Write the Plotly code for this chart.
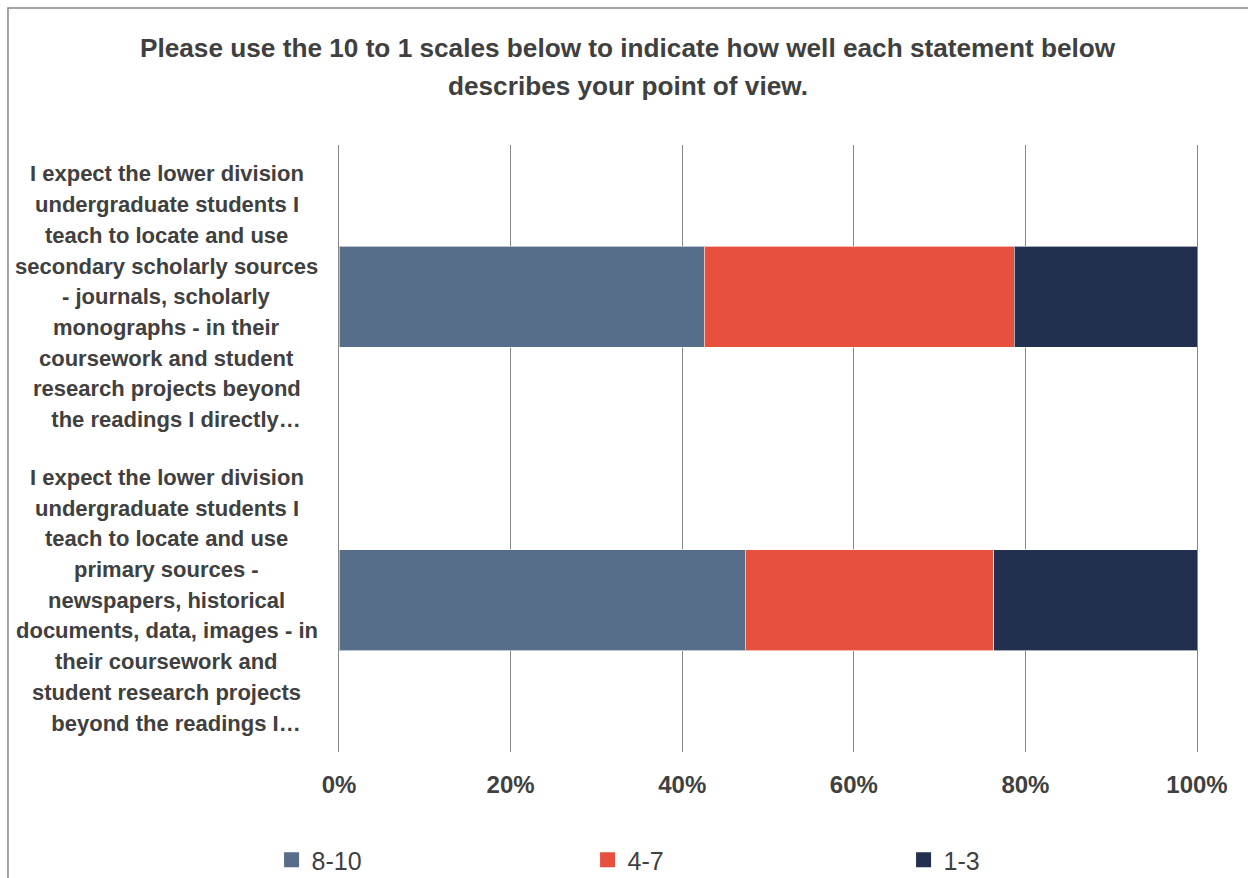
import plotly.graph_objects as go

# Survey statements (long labels, wrapped as they appear on the chart)
statements = [
    "Secondary scholarly sources",
    "Primary sources",
]
statement_lines = [
    ["I expect the lower division", "undergraduate students I", "teach to locate and use",
     "secondary scholarly sources", "- journals, scholarly", "monographs - in their",
     "coursework and student", "research projects beyond", "   the readings I directly…"],
    ["I expect the lower division", "undergraduate students I", "teach to locate and use",
     "primary sources -", "newspapers, historical", "documents, data, images - in",
     "their coursework and", "student research projects", "   beyond the readings I…"],
]

# Share of responses per rating band (fractions of 1)
series_names = ["8-10", "4-7", "1-3"]
share_8_10 = [20 / 47, 18 / 38]
share_4_7 = [17 / 47, 11 / 38]
share_1_3 = [10 / 47, 9 / 38]
series_values = [share_8_10, share_4_7, share_1_3]
series_colors = ["#566E89", "#E8503E", "#222F4F"]

tick_vals = [0, 0.2, 0.4, 0.6, 0.8, 1.0]
tick_text = ["0%", "20%", "40%", "60%", "80%", "100%"]

title_lines = [
    "Please use the 10 to 1 scales below to indicate how well each statement below",
    "describes your point of view.",
]

FONT = "Liberation Sans, Arial, sans-serif"
TEXT = "#404040"
GRID = "#878787"

fig = go.Figure()
for name, vals, col in zip(series_names, series_values, series_colors):
    fig.add_trace(go.Bar(
        y=statements, x=vals, name=name, orientation="h", legendgroup=name,
        showlegend=False,
        marker=dict(color=col, line=dict(color="rgba(255,255,255,0.6)", width=1)),
        width=0.333,
    ))
    # square legend key for the series
    fig.add_trace(go.Scatter(
        x=[None], y=[None], mode="markers", name=name, legendgroup=name,
        marker=dict(symbol="square", size=15, color=col),
    ))

# Centered, multi-line category labels on the left
line_gap = 30.7
for cat, lines in zip(statements, statement_lines):
    mid = (len(lines) - 1) / 2
    for i, ln in enumerate(lines):
        fig.add_annotation(
            x=-0.2005, xref="paper", y=cat, yref="y",
            yshift=(mid - i) * line_gap,
            text="<b>" + ln + "</b>", showarrow=False, xanchor="center", yanchor="middle",
            font=dict(family=FONT, size=22, color=TEXT),
        )

# Two-line chart title
for ty, tl in zip([1.1598, 1.0972], title_lines):
    fig.add_annotation(
        x=0.3368, xref="paper", y=ty, yref="paper", text="<b>" + tl + "</b>",
        showarrow=False, xanchor="center", yanchor="middle",
        font=dict(family=FONT, size=26.2, color=TEXT),
    )

# Outer chart border
fig.add_shape(type="rect", xref="paper", yref="paper",
              x0=-0.3858, x1=1.09, y0=-0.26, y1=1.2257,
              line=dict(color=GRID, width=1.5), fillcolor="rgba(0,0,0,0)", layer="below")

fig.update_layout(
    width=1248, height=878,
    margin=dict(l=339, r=51, t=145, b=126, autoexpand=False),
    paper_bgcolor="white", plot_bgcolor="white",
    barmode="stack",
    xaxis=dict(range=[0, 1], tickvals=tick_vals, ticktext=[f"<b>{t}</b>" for t in tick_text],
               showgrid=True, gridcolor=GRID, gridwidth=1, zeroline=False,
               showline=False, ticks="", ticklabelstandoff=16, automargin=False,
               tickfont=dict(family=FONT, size=24, color=TEXT)),
    yaxis=dict(categoryorder="array", categoryarray=statements, autorange="reversed",
               showticklabels=False, showgrid=False, zeroline=False,
               showline=True, mirror=True, linecolor=GRID, linewidth=1, automargin=False),
    legend=dict(orientation="h", x=-0.0786, xanchor="left", y=-0.178, yanchor="middle",
                entrywidth=271, entrywidthmode="pixels", traceorder="normal",
                font=dict(family=FONT, size=25, color=TEXT)),
    showlegend=True,
)

fig.write_html("out.html")
